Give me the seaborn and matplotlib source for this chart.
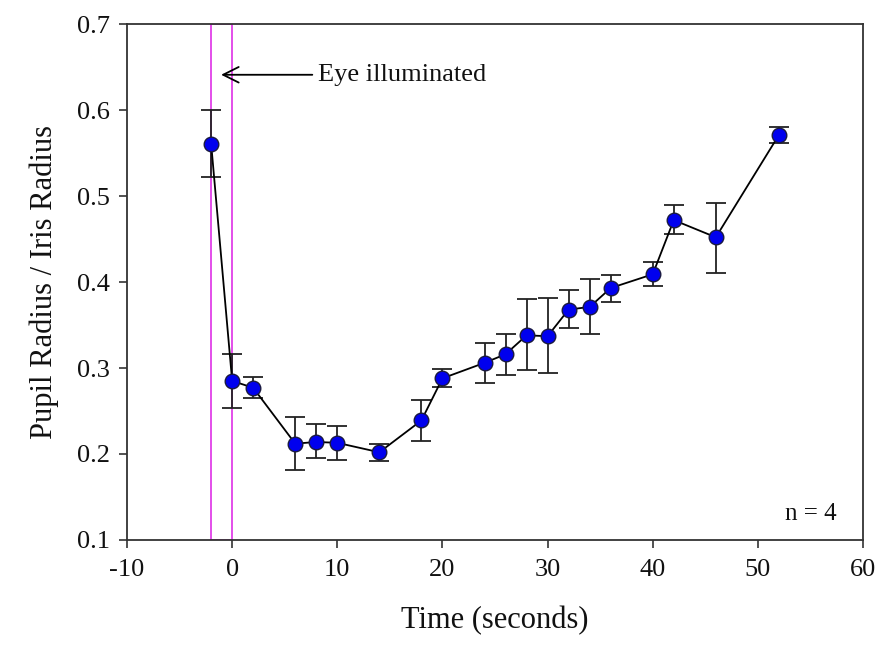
import matplotlib
matplotlib.use("Agg")
import matplotlib.pyplot as plt
import numpy as np
import pandas as pd
import seaborn as sns

# time after start (s) and pupil/iris ratio
time_s = [-2, 0, 2, 6, 8, 10, 14, 18, 20, 24, 26, 28, 30, 32, 34, 36, 40, 42, 46, 52]
ratio = [0.561, 0.285, 0.277, 0.212, 0.214, 0.213, 0.202, 0.239, 0.288, 0.306,
         0.316, 0.338, 0.337, 0.368, 0.371, 0.393, 0.409, 0.472, 0.452, 0.571]
err_top = [0.600, 0.316, 0.289, 0.243, 0.235, 0.233, 0.212, 0.263, 0.299, 0.329,
           0.340, 0.380, 0.381, 0.391, 0.403, 0.408, 0.423, 0.490, 0.492, 0.580]
err_bottom = [0.522, 0.254, 0.265, 0.181, 0.195, 0.193, 0.192, 0.215, 0.278, 0.283,
              0.292, 0.298, 0.294, 0.346, 0.340, 0.377, 0.395, 0.456, 0.411, 0.562]

x_ticks = [-10, 0, 10, 20, 30, 40, 50, 60]
y_ticks = [0.1, 0.2, 0.3, 0.4, 0.5, 0.6, 0.7]

df = pd.DataFrame({"time": time_s, "ratio": ratio,
                   "top": err_top, "bottom": err_bottom})

sns.set_theme(style="ticks")
plt.rcParams['font.family'] = ['Liberation Serif', 'DejaVu Serif']
plt.rcParams['text.color'] = '#111111'
plt.rcParams['axes.labelcolor'] = '#111111'

fig = plt.figure(figsize=(8.9, 6.46), dpi=100)
ax = fig.add_axes([0.1427, 0.1641, 0.8270, 0.7987])

# stimulus window
ax.axvspan(-2, 0, fill=False, edgecolor='#e040e8', linewidth=1.3, zorder=1)

lower = df['ratio'] - df['bottom']
upper = df['top'] - df['ratio']
ax.errorbar(df['time'], df['ratio'], yerr=[lower, upper], fmt='none',
            ecolor='#222222', elinewidth=1.3, capsize=7, capthick=1.3, zorder=2)

sns.lineplot(data=df, x='time', y='ratio', color='black', linewidth=1.3,
             marker='o', markersize=10.5, markerfacecolor='#0000ee',
             markeredgecolor='#1a1a40', markeredgewidth=1.0, ax=ax, zorder=3)

ax.annotate('Eye illuminated', xy=(-1.05, 0.641), xytext=(8.2, 0.641),
            fontsize=19, va='center', ha='left',
            arrowprops=dict(arrowstyle='->', color='black', lw=1.3,
                            mutation_scale=28, shrinkA=2, shrinkB=0))
ax.text(57.5, 0.13, 'n = 4', fontsize=18, ha='right', va='center')

ax.set_xlim(-10, 60)
ax.set_ylim(0.1, 0.7)
ax.set_xticks(x_ticks)
ax.set_xticklabels([str(t) for t in x_ticks])
ax.set_yticks(y_ticks)
ax.set_yticklabels([f"{t:.1f}" for t in y_ticks])
ax.tick_params(axis='both', labelsize=19, direction='out', length=6,
               width=1.2, color='#333333', labelcolor='#111111', pad=6)
ax.tick_params(axis='x', pad=8)
for sp in ax.spines.values():
    sp.set_linewidth(1.3)
    sp.set_color('#333333')

ax.set_xlabel('Time (seconds)', fontsize=22, labelpad=18)
ax.set_ylabel('Pupil Radius / Iris Radius', fontsize=22, labelpad=13)

fig.savefig('out.png', dpi=100)
